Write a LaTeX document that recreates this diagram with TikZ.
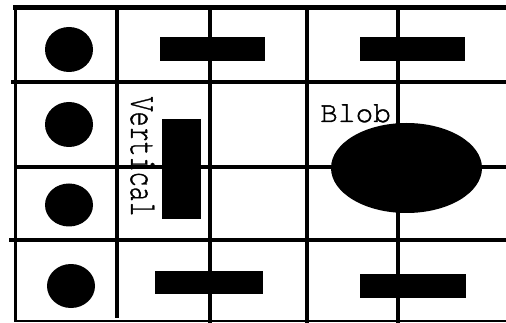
\documentclass[tikz,border=0pt]{standalone}
\usepackage{fontspec}
\newfontfamily\courierfont[FakeBold=1.2,BoldFont={TeX Gyre Cursor}]{TeX Gyre Cursor}
\begin{document}
\begin{tikzpicture}[x=1pt,y=-1pt,
  gridline/.style={line width=3.6pt,black},
  thinline/.style={line width=2.4pt,black},
  dot/.style={fill=black,draw=none},
  bar/.style={fill=black,draw=none},
  lbl/.style={inner sep=0pt,text=black}]
\useasboundingbox (0,0) rectangle (506,323);
% horizontal lines
\coordinate (h1a) at (13,7.5);   \coordinate (h1b) at (506,7.5);
\coordinate (h2a) at (11,82);    \coordinate (h2b) at (506,82);
\coordinate (h3a) at (15,167);   \coordinate (h3b) at (506,167);
\coordinate (h4a) at (9,240);    \coordinate (h4b) at (506,240);
\coordinate (h5a) at (15,321);   \coordinate (h5b) at (506,321);
\draw[gridline,line width=4.5pt] (h1a) -- (h1b);
\draw[gridline] (h2a) -- (h2b);
\draw[gridline] (h3a) -- (h3b);
\draw[gridline] (h4a) -- (h4b);
\draw[thinline] (h5a) -- (h5b);
% vertical lines
\coordinate (v1a) at (15,6);   \coordinate (v1b) at (15,322);
\coordinate (v2a) at (117,6);  \coordinate (v2b) at (117,318);
\coordinate (v3a) at (210,6);  \coordinate (v3b) at (210,323);
\coordinate (v4a) at (307,6);  \coordinate (v4b) at (307,323);
\coordinate (v5a) at (398,6);  \coordinate (v5b) at (398,323);
\draw[thinline,line width=3pt] (v1a) -- (v1b);
\draw[gridline] (v2a) -- (v2b);
\draw[gridline] (v3a) -- (v3b);
\draw[gridline] (v4a) -- (v4b);
\draw[gridline] (v5a) -- (v5b);
% dots
\fill[dot] (69,49.5) ellipse [x radius=24, y radius=22.5];
\fill[dot] (69,124.5) ellipse [x radius=24, y radius=22.5];
\fill[dot] (69,205) ellipse [x radius=24, y radius=21.5];
\fill[dot] (71,286) ellipse [x radius=24, y radius=22];
% bars
\fill[bar] (159.5,37.3) rectangle (265,61);
\fill[bar] (359.7,37.3) rectangle (465.3,61);
\fill[bar] (155,271) rectangle (263,294);
\fill[bar] (359.7,274.3) rectangle (466,298.3);
\fill[bar] (161.5,119.3) rectangle (201,219.3);
% blob
\fill[dot] (406.5,168) ellipse [x radius=75.5, y radius=45];
% labels
\node[lbl,anchor=base west,font=\fontsize{29.5}{30}\selectfont\courierfont\bfseries] (blob) at (320,122) {Blob};
\node[lbl,anchor=base west,rotate=-90] (vert) at (131,96.5) {\scalebox{1}[1.54]{\fontsize{25}{25}\selectfont\courierfont\bfseries Vertical}};
\end{tikzpicture}
\end{document}
